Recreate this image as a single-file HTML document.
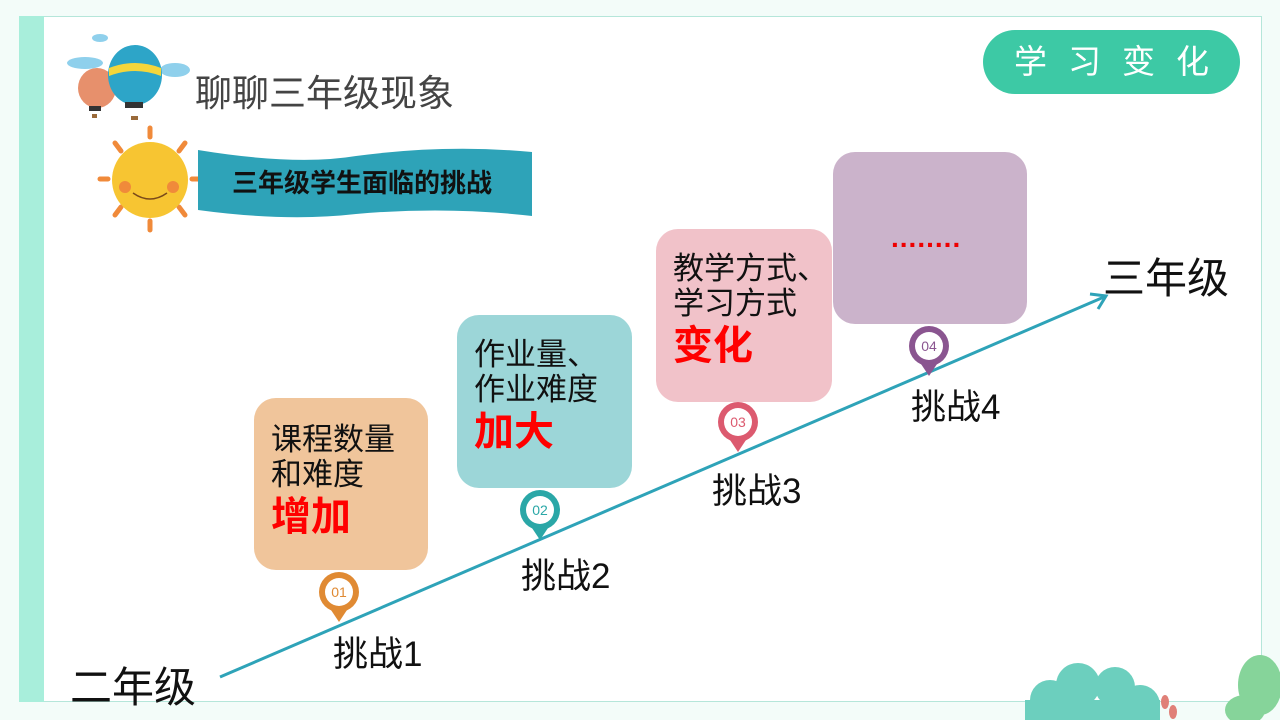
<!DOCTYPE html>
<html><head><meta charset="utf-8"><style>
*{margin:0;padding:0;box-sizing:border-box}
body{width:1280px;height:720px;position:relative;overflow:hidden;background:#f3fcf9;font-family:"Liberation Sans","Noto Sans CJK SC",sans-serif}
.panel{position:absolute;left:19px;top:16px;width:1243px;height:686px;background:#fff;border:1px solid #b5e6da}
.strip{position:absolute;left:19px;top:16px;width:25px;height:686px;background:#a8eedb}
.abs{position:absolute;white-space:nowrap}
.box{position:absolute;border-radius:22px}
.t{position:absolute;font-size:31px;line-height:35px;color:#111;white-space:nowrap}
.b{font-size:40px;font-weight:bold;color:#f00;line-height:50px}
.lab{position:absolute;font-size:35px;line-height:40px;color:#111;white-space:nowrap}
</style></head><body>
<div class="panel"></div>
<div class="strip"></div>

<svg class="abs" style="left:55px;top:30px" width="140" height="90">
<ellipse cx="30" cy="33" rx="18" ry="6" fill="#8fd0ec"/><ellipse cx="120" cy="40" rx="15" ry="7" fill="#8fd0ec"/><ellipse cx="45" cy="8" rx="8" ry="4" fill="#8fd0ec"/>
<ellipse cx="42" cy="58" rx="19" ry="20" fill="#e7906c"/><rect x="34" y="76" width="12" height="5" fill="#333"/><rect x="37" y="84" width="5" height="4" fill="#9a6a3a"/>
<ellipse cx="80" cy="45" rx="27" ry="30" fill="#2da5c8"/><path d="M54 38 Q80 28 106 38 L106 46 Q80 36 54 46Z" fill="#f4d63b"/><rect x="70" y="72" width="18" height="6" fill="#333"/><rect x="76" y="86" width="7" height="6" fill="#9a6a3a"/>
</svg>
<div class="abs" style="left:195px;top:63px;font-size:37px;color:#444">聊聊三年级现象</div>

<svg class="abs" style="left:95px;top:125px" width="110" height="108">
<g stroke="#f08a3a" stroke-width="5" stroke-linecap="round">
<line x1="55" y1="3" x2="55" y2="12"/><line x1="55" y1="96" x2="55" y2="105"/><line x1="5" y1="54" x2="13" y2="54"/><line x1="97" y1="54" x2="105" y2="54"/>
<line x1="20" y1="18" x2="26" y2="26"/><line x1="90" y1="18" x2="84" y2="26"/><line x1="20" y1="90" x2="26" y2="82"/><line x1="90" y1="90" x2="84" y2="82"/></g>
<circle cx="55" cy="55" r="38" fill="#f7c532"/><circle cx="30" cy="62" r="6" fill="#f08a3a"/><circle cx="78" cy="62" r="6" fill="#f08a3a"/>
<path d="M38 68 Q55 80 72 68" stroke="#7a4a1a" stroke-width="1.5" fill="none"/>
</svg>
<svg class="abs" style="left:196px;top:144px" width="340" height="75"><path d="M2 6 Q100 22 160 12 Q250 0 336 8 L336 72 Q250 62 160 70 Q90 78 2 66Z" fill="#2ea3b8"/></svg>
<div class="abs" style="left:232px;top:163px;font-size:26px;font-weight:bold;color:#111">三年级学生面临的挑战</div>

<div class="abs" style="left:983px;top:30px;width:257px;height:64px;border-radius:32px;background:#3dc9a5;color:#fff;font-size:33px;line-height:64px;text-align:center;letter-spacing:21px;padding-left:21px">学习变化</div>

<div class="box" style="left:254px;top:398px;width:174px;height:172px;background:#f0c59b"></div>
<div class="box" style="left:457px;top:315px;width:175px;height:173px;background:#9cd6d8"></div>
<div class="box" style="left:656px;top:229px;width:176px;height:173px;background:#f1c2c9"></div>
<div class="box" style="left:833px;top:152px;width:194px;height:172px;background:#cbb3cb"></div>

<div class="t" style="left:271px;top:422px">课程数量<br>和难度<br><span class="b">增加</span></div>
<div class="t" style="left:474px;top:337px">作业量、<br>作业难度<br><span class="b">加大</span></div>
<div class="t" style="left:673px;top:251px">教学方式、<br>学习方式<br><span class="b">变化</span></div>
<div class="abs" style="left:891px;top:222px;font-size:28px;color:#e00;font-weight:bold;letter-spacing:1px">........</div>

<svg class="abs" style="left:0;top:0" width="1280" height="720">
<line x1="220" y1="677" x2="1104" y2="297" stroke="#2ea3b8" stroke-width="3"/>
<polyline points="1090,294 1106,296 1098,309" fill="none" stroke="#2ea3b8" stroke-width="3"/>
<g font-family="Liberation Sans" font-size="14" text-anchor="middle">
<g><path d="M331 610 L339 622 L347 610Z" fill="#e08a33"/><circle cx="339" cy="592" r="20" fill="#e08a33"/><circle cx="339" cy="592" r="14" fill="#fff"/><text x="339" y="597" fill="#e08a33">01</text></g>
<g><path d="M532 528 L540 540 L548 528Z" fill="#2aa7a7"/><circle cx="540" cy="510" r="20" fill="#2aa7a7"/><circle cx="540" cy="510" r="14" fill="#fff"/><text x="540" y="515" fill="#2aa7a7">02</text></g>
<g><path d="M730 440 L738 452 L746 440Z" fill="#dc5a6f"/><circle cx="738" cy="422" r="20" fill="#dc5a6f"/><circle cx="738" cy="422" r="14" fill="#fff"/><text x="738" y="427" fill="#dc5a6f">03</text></g>
<g><path d="M921 364 L929 376 L937 364Z" fill="#8a5590"/><circle cx="929" cy="346" r="20" fill="#8a5590"/><circle cx="929" cy="346" r="14" fill="#fff"/><text x="929" y="351" fill="#8a5590">04</text></g>
</g>
</svg>

<div class="lab" style="left:333px;top:635px">挑战1</div>
<div class="lab" style="left:521px;top:557px">挑战2</div>
<div class="lab" style="left:712px;top:472px">挑战3</div>
<div class="lab" style="left:911px;top:388px">挑战4</div>
<div class="abs" style="left:70px;top:654px;font-size:42px;color:#111">二年级</div>
<div class="abs" style="left:1103px;top:245px;font-size:42px;color:#111">三年级</div>

<svg class="abs" style="left:990px;top:650px" width="290" height="70">
<g fill="#6ccfbe"><circle cx="60" cy="50" r="20"/><circle cx="88" cy="35" r="22"/><circle cx="125" cy="37" r="20"/><circle cx="150" cy="55" r="20"/><rect x="35" y="50" width="135" height="30"/></g>
<g fill="#e08078"><ellipse cx="175" cy="52" rx="4" ry="7"/><ellipse cx="183" cy="62" rx="4" ry="7"/></g>
<g fill="#86d49a"><ellipse cx="270" cy="35" rx="22" ry="30"/><ellipse cx="255" cy="60" rx="20" ry="15"/></g>
</svg>
</body></html>
